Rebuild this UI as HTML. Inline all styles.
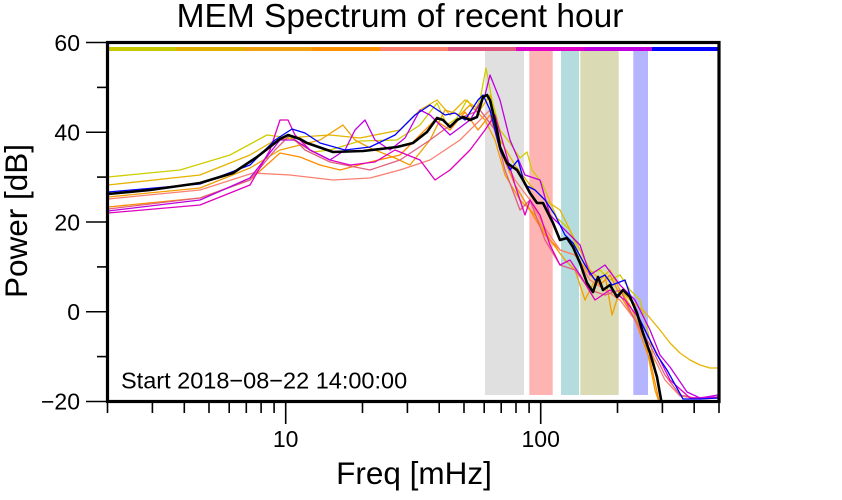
<!DOCTYPE html>
<html>
<head>
<meta charset="utf-8">
<style>
html,body{margin:0;padding:0;background:#fff;}
svg{display:block;}
text{font-family:"Liberation Sans",Arial,sans-serif;fill:#000;}
</style>
</head>
<body>
<svg width="842" height="500" viewBox="0 0 842 500" xmlns="http://www.w3.org/2000/svg">
<defs>
<clipPath id="pc"><rect x="108" y="44" width="610" height="356"/></clipPath>
</defs>
<rect x="0" y="0" width="842" height="500" fill="#fff"/>

<!-- title -->
<text x="400" y="27" font-size="33.5" text-anchor="middle">MEM Spectrum of recent hour</text>

<!-- shaded bands -->
<rect x="485" y="51" width="39" height="344" fill="#e0e0e0"/>
<rect x="529.3" y="51" width="23.4" height="344" fill="#ffb4b4"/>
<rect x="561" y="51" width="18" height="344" fill="#b4dcdf"/>
<rect x="580.3" y="51" width="38.4" height="344" fill="#dadab4"/>
<rect x="633.3" y="51" width="14.7" height="344" fill="#b4b4ff"/>

<!-- top colour bar -->
<g>
<rect x="108" y="47" width="68" height="4" fill="#c8c800"/>
<rect x="176" y="47" width="68" height="4" fill="#e0b000"/>
<rect x="244" y="47" width="68" height="4" fill="#f0a010"/>
<rect x="312" y="47" width="68" height="4" fill="#ff9000"/>
<rect x="380" y="47" width="68" height="4" fill="#ff7f6a"/>
<rect x="448" y="47" width="68" height="4" fill="#e0587f"/>
<rect x="516" y="47" width="68" height="4" fill="#e000c8"/>
<rect x="584" y="47" width="68" height="4" fill="#c000e0"/>
<rect x="652" y="47" width="67" height="4" fill="#0000ff"/>
</g>

<!-- curves -->
<g clip-path="url(#pc)" fill="none" stroke-width="1.3" stroke-linejoin="round" stroke-linecap="round">
<polyline stroke="#cdcd00" points="108,177 180,170 230,155 267,135 290,138 313,152 330,150 360,141 397,140 420,125 437,103 447,125 457,118 467,100 475,110 480,100 486,68 492,100 500,130 510,143 520,158 527,152 532,170 542,183 557,218 570,230 580,257 590,273 600,270 610,280 620,275 630,290 640,300 650,340 658,385 662,405"/>
<polyline stroke="#e6b400" points="108,185 200,175 250,155 275,140 300,137 330,135 360,138 400,130 420,110 437,100 450,115 465,100 480,110 490,95 500,140 515,165 530,185 545,200 560,210 575,240 590,270 600,280 610,270 620,290 630,300 645,312 660,330 670,343 680,353 690,360 700,365 710,368 718,368"/>
<polyline stroke="#f0a000" points="108,197 200,188 250,168 280,150 300,145 320,140 343,125 355,140 370,148 395,158 410,165 430,140 445,110 460,115 470,105 485,120 495,140 505,175 520,200 535,215 550,240 565,260 575,270 585,300 595,280 605,275 612,315 620,290 630,305 645,340 655,390 660,405"/>
<polyline stroke="#ff8c00" points="108,207 200,198 250,180 280,153 300,157 320,165 340,170 370,162 400,155 420,135 435,120 450,130 465,112 478,130 490,115 500,150 515,185 530,210 545,235 560,250 575,255 590,275 600,285 610,275 620,295 635,320 650,360 660,405"/>
<polyline stroke="#fa8072" points="108,199 200,190 253,173 290,175 333,180 370,178 400,170 430,160 460,140 475,125 490,110 500,150 515,180 530,200 545,228 560,250 575,255 590,280 605,290 620,300 635,320 650,350 665,380 680,396 700,399 718,398"/>
<polyline stroke="#e0607e" points="108,209 200,198 250,180 275,150 290,135 305,150 330,162 370,170 400,160 430,140 460,118 480,110 495,130 505,170 520,210 530,200 545,240 560,265 575,270 590,290 605,295 620,290 635,320 650,345 665,375 680,395 700,399 718,397"/>
<polyline stroke="#e000c0" points="108,213 200,205 250,185 270,150 280,120 288,120 295,135 310,150 330,160 350,165 375,162 395,150 420,160 435,180 450,170 470,150 485,130 495,115 505,150 515,185 525,215 530,200 540,215 550,245 560,265 570,260 580,275 595,300 610,290 625,300 640,320 655,350 670,380 690,398 718,397"/>
<polyline stroke="#c000e0" points="108,211 200,200 250,178 280,140 295,140 310,150 330,160 345,150 355,130 365,120 375,140 390,150 405,138 420,110 430,115 450,135 470,120 485,95 490,75 500,100 510,140 525,175 540,180 550,215 565,230 580,245 590,275 605,265 620,285 635,300 650,330 660,355 670,367 687,392 700,398 718,395"/>
<polyline stroke="#0000ff" points="108,192 200,184 250,165 275,140 292,129 305,133 320,143 345,150 370,147 395,135 415,115 430,105 445,115 455,113 465,120 478,100 483,95 490,110 500,150 510,170 518,160 525,185 535,190 545,200 555,215 565,235 573,243 585,265 595,280 605,275 612,285 625,280 635,310 645,330 657,355 667,370 683,399 700,399 718,398"/>
<polyline stroke="#000" stroke-width="2.6" points="108,194 150,190 200,183 233,173 257,157 280,139 288,135 300,139 307,143 333,152 363,151 397,147 413,143 427,132 437,118 443,120 450,127 457,120 463,117 470,120 477,117 483,97 487,95 490,100 493,113 497,130 500,147 507,163 517,170 523,180 530,193 537,203 543,203 553,223 560,240 567,238 573,247 580,263 587,283 593,292 598,277 603,290 610,285 617,297 623,290 630,297 637,313 643,333 650,353 657,377 662,405"/>
</g>

<!-- frame -->
<rect x="107.5" y="42.5" width="611.5" height="359" fill="none" stroke="#000" stroke-width="3.2"/>

<!-- y ticks -->
<g stroke="#000" stroke-width="1.6">
<line x1="86" y1="42.5" x2="107" y2="42.5"/>
<line x1="97" y1="87.4" x2="107" y2="87.4"/>
<line x1="86" y1="132.25" x2="107" y2="132.25"/>
<line x1="97" y1="177.1" x2="107" y2="177.1"/>
<line x1="86" y1="222" x2="107" y2="222"/>
<line x1="97" y1="266.9" x2="107" y2="266.9"/>
<line x1="86" y1="311.75" x2="107" y2="311.75"/>
<line x1="97" y1="356.6" x2="107" y2="356.6"/>
<line x1="86" y1="401.5" x2="107" y2="401.5"/>
</g>
<g font-size="23" text-anchor="end">
<text x="80" y="51">60</text>
<text x="80" y="140.5">40</text>
<text x="80" y="230.3">20</text>
<text x="80" y="320">0</text>
<text x="80" y="409.7">−20</text>
</g>

<!-- x ticks -->
<g stroke="#000" stroke-width="1.6">
<line x1="107.5" y1="402" x2="107.5" y2="413"/>
<line x1="152.4" y1="402" x2="152.4" y2="413"/>
<line x1="184.3" y1="402" x2="184.3" y2="413"/>
<line x1="209" y1="402" x2="209" y2="413"/>
<line x1="229.2" y1="402" x2="229.2" y2="413"/>
<line x1="246.3" y1="402" x2="246.3" y2="413"/>
<line x1="261.1" y1="402" x2="261.1" y2="413"/>
<line x1="274.1" y1="402" x2="274.1" y2="413"/>
<line x1="285.7" y1="402" x2="285.7" y2="424"/>
<line x1="362.5" y1="402" x2="362.5" y2="413"/>
<line x1="407.4" y1="402" x2="407.4" y2="413"/>
<line x1="439.2" y1="402" x2="439.2" y2="413"/>
<line x1="464" y1="402" x2="464" y2="413"/>
<line x1="484.2" y1="402" x2="484.2" y2="413"/>
<line x1="501.2" y1="402" x2="501.2" y2="413"/>
<line x1="516" y1="402" x2="516" y2="413"/>
<line x1="529.1" y1="402" x2="529.1" y2="413"/>
<line x1="540.7" y1="402" x2="540.7" y2="424"/>
<line x1="617.5" y1="402" x2="617.5" y2="413"/>
<line x1="662.4" y1="402" x2="662.4" y2="413"/>
<line x1="694.2" y1="402" x2="694.2" y2="413"/>
<line x1="719" y1="402" x2="719" y2="413"/>
</g>
<g font-size="23" text-anchor="middle">
<text x="285.7" y="447">10</text>
<text x="540.7" y="447">100</text>
</g>

<!-- axis labels -->
<text x="414" y="484" font-size="31.5" text-anchor="middle">Freq [mHz]</text>
<text transform="translate(27,221) rotate(-90)" font-size="31.5" text-anchor="middle">Power [dB]</text>

<!-- start annotation -->
<text x="121" y="388.5" font-size="23.5">Start 2018−08−22 14:00:00</text>
</svg>
</body>
</html>
